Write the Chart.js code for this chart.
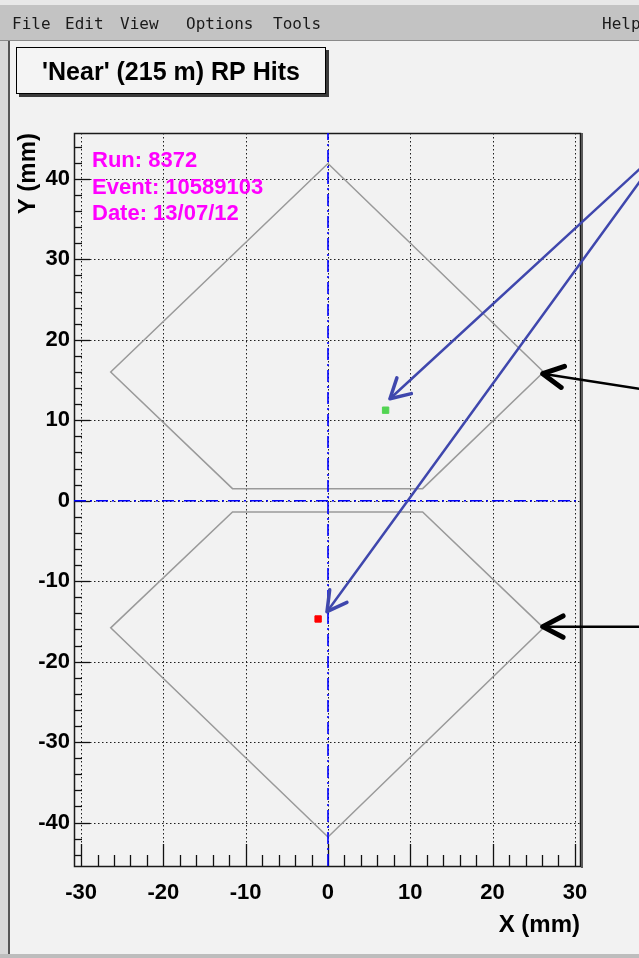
<!DOCTYPE html>
<html>
<head>
<meta charset="utf-8">
<script src="https://cdn.jsdelivr.net/npm/chart.js@4.4.0/dist/chart.umd.min.js"></script>
<style>
  html, body { margin: 0; padding: 0; background: #f2f2f2; overflow: hidden; }
  canvas { display: block; }
</style>
</head>
<body>
<canvas id="rp" width="639" height="958"></canvas>
<script>
// 'Near' (215 m) Roman Pot hit display

// axis ranges and labelled ticks (mm)
const xRange = [-30.86, 30.62];
const yRange = [-45.4, 45.7];
const xTickValues = [-30, -20, -10, 0, 10, 20, 30];
const yTickValues = [-40, -30, -20, -10, 0, 10, 20, 30, 40];

// acceptance outline of the upper pot (mm)
const upperPotX = [0, 26.2, 11.5, -11.6, -26.4, 0];
const upperPotY = [41.9, 16.0, 1.5, 1.5, 16.0, 41.9];
// acceptance outline of the lower pot (mm)
const lowerPotX = [0, 26.2, 11.5, -11.6, -26.4, 0];
const lowerPotY = [-41.8, -15.8, -1.4, -1.4, -15.8, -41.8];

// reconstructed hits (mm)
const hitUpperX = [7.0];
const hitUpperY = [11.25];
const hitLowerX = [-1.2];
const hitLowerY = [-14.7];

// event information
const infoLines = ['Run: 8372', 'Event: 10589103', 'Date: 13/07/12'];
const plotTitle = "'Near' (215 m) RP Hits";
const menuLabels = ['File', 'Edit', 'View', 'Options', 'Tools', 'Help'];

// annotation arrows, endpoints in mm: [tailX, tailY, tipX, tipY]
const blueArrows = [
  [41.25, 44.4, 7.53, 12.67],
  [41.25, 44.4, -0.12, -13.79]
];
const blackArrows = [
  [40.3, 13.5, 26.09, 15.78],
  [40.3, -15.65, 26.09, -15.65]
];

const zip = (xs, ys) => xs.map((x, i) => ({ x: x, y: ys[i] }));

const FONT = '"Liberation Sans", Arial, Helvetica, sans-serif';

function arrow(ctx, x1, y1, x2, y2, color, lw, headLw, headLen, halfAngle) {
  const ang = Math.atan2(y1 - y2, x1 - x2);
  ctx.save();
  ctx.strokeStyle = color;
  ctx.lineCap = 'round';
  ctx.lineJoin = 'round';
  ctx.lineWidth = lw;
  ctx.beginPath();
  ctx.moveTo(x1, y1);
  ctx.lineTo(x2, y2);
  ctx.stroke();
  ctx.lineWidth = headLw;
  ctx.beginPath();
  ctx.moveTo(x2 + headLen * Math.cos(ang + halfAngle), y2 + headLen * Math.sin(ang + halfAngle));
  ctx.lineTo(x2, y2);
  ctx.lineTo(x2 + headLen * Math.cos(ang - halfAngle), y2 + headLen * Math.sin(ang - halfAngle));
  ctx.stroke();
  ctx.restore();
}

const rootStyle = {
  id: 'rootStyle',
  beforeDraw(chart) {
    const ctx = chart.ctx;
    const W = chart.width, H = chart.height;
    ctx.save();
    // canvas background
    ctx.fillStyle = '#f2f2f2';
    ctx.fillRect(0, 0, W, H);
    // menu bar
    ctx.fillStyle = '#e8e8e8';
    ctx.fillRect(0, 0, W, 5);
    ctx.fillStyle = '#c3c3c3';
    ctx.fillRect(0, 5, W, 36);
    ctx.fillStyle = '#8a8a8a';
    ctx.fillRect(0, 40, W, 1);
    // sunken window border
    ctx.fillStyle = '#d8d8d8';
    ctx.fillRect(0, 41, 8, H - 41);
    ctx.fillStyle = '#555555';
    ctx.fillRect(8, 41, 2, H - 41);
    ctx.fillStyle = '#bdbdbd';
    ctx.fillRect(0, H - 4, W, 4);
    // menu labels
    ctx.fillStyle = '#1a1a1a';
    ctx.font = '16px "DejaVu Sans Mono", monospace';
    ctx.textBaseline = 'alphabetic';
    ctx.textAlign = 'left';
    const menuX = [12, 65, 120, 186, 273, 602];
    menuLabels.forEach((m, i) => ctx.fillText(m, menuX[i], 29));
    // title box with shadow
    ctx.fillStyle = '#3a3a3a';
    ctx.fillRect(19, 50, 310, 47);
    ctx.fillStyle = '#f4f4f4';
    ctx.fillRect(16, 47, 310, 47);
    ctx.strokeStyle = '#000';
    ctx.lineWidth = 1;
    ctx.strokeRect(16.5, 47.5, 309, 46);
    ctx.fillStyle = '#000';
    ctx.font = 'bold 25px ' + FONT;
    ctx.textAlign = 'center';
    ctx.fillText(plotTitle, 171, 80);
    ctx.restore();
  },
  beforeDatasetsDraw(chart) {
    const ctx = chart.ctx;
    const a = chart.chartArea;
    const xs = chart.scales.x, ys = chart.scales.y;
    ctx.save();
    // dotted grid at labelled ticks
    ctx.strokeStyle = '#1e1e1e';
    ctx.lineWidth = 1;
    ctx.setLineDash([1.5, 2.5]);
    xTickValues.forEach(v => {
      const px = Math.round(xs.getPixelForValue(v)) + 0.5;
      ctx.beginPath(); ctx.moveTo(px, a.top); ctx.lineTo(px, a.bottom); ctx.stroke();
    });
    yTickValues.forEach(v => {
      const py = Math.round(ys.getPixelForValue(v)) + 0.5;
      ctx.beginPath(); ctx.moveTo(a.left, py); ctx.lineTo(a.right, py); ctx.stroke();
    });
    ctx.setLineDash([]);
    // inward tick marks
    ctx.strokeStyle = '#111';
    ctx.lineWidth = 1.3;
    for (let v = -30; v <= 30; v += 2) {
      const px = Math.round(xs.getPixelForValue(v)) + 0.5;
      const len = v % 10 === 0 ? 22 : 11;
      ctx.beginPath(); ctx.moveTo(px, a.bottom); ctx.lineTo(px, a.bottom - len); ctx.stroke();
    }
    for (let v = -44; v <= 44; v += 2) {
      const py = Math.round(ys.getPixelForValue(v)) + 0.5;
      const len = v % 10 === 0 ? 16 : 8;
      ctx.beginPath(); ctx.moveTo(a.left, py); ctx.lineTo(a.left + len, py); ctx.stroke();
    }
    // frame
    ctx.strokeStyle = '#1a1a1a';
    ctx.lineWidth = 1.5;
    ctx.strokeRect(a.left + 0.5, a.top + 0.5, a.right - a.left, a.bottom - a.top);
    ctx.fillStyle = '#5a5a5a';
    ctx.fillRect(a.right + 1, a.top, 2, a.bottom - a.top + 2);
    ctx.restore();
  },
  afterDatasetsDraw(chart) {
    const ctx = chart.ctx;
    const a = chart.chartArea;
    const xs = chart.scales.x, ys = chart.scales.y;
    ctx.save();
    // event information
    ctx.fillStyle = '#ff00ff';
    ctx.font = 'bold 22px ' + FONT;
    ctx.textAlign = 'left';
    ctx.textBaseline = 'alphabetic';
    infoLines.forEach((t, i) => ctx.fillText(t, 92, 167 + i * 26.5));
    // axis titles
    ctx.fillStyle = '#000';
    ctx.font = 'bold 24px ' + FONT;
    ctx.textAlign = 'right';
    ctx.fillText('X (mm)', a.right, 932);
    ctx.save();
    ctx.translate(35, a.top);
    ctx.rotate(-Math.PI / 2);
    ctx.textAlign = 'right';
    ctx.fillText('Y (mm)', 0, 0);
    ctx.restore();
    // arrows
    blueArrows.forEach(r => arrow(ctx,
      xs.getPixelForValue(r[0]), ys.getPixelForValue(r[1]),
      xs.getPixelForValue(r[2]), ys.getPixelForValue(r[3]),
      '#3f47ad', 2.5, 3.5, 22, Math.PI / 6.2));
    blackArrows.forEach(r => arrow(ctx,
      xs.getPixelForValue(r[0]), ys.getPixelForValue(r[1]),
      xs.getPixelForValue(r[2]), ys.getPixelForValue(r[3]),
      '#000000', 2.5, 5, 23, Math.PI / 6.5));
    ctx.restore();
  }
};

const lineSet = (data, color, width, dash, order) => ({
  data: data, showLine: true, borderColor: color, borderWidth: width,
  borderDash: dash, pointRadius: 0, fill: false, tension: 0, order: order
});

const tickFont = { family: FONT, size: 22, weight: 'bold' };

new Chart(document.getElementById('rp'), {
  type: 'scatter',
  data: {
    datasets: [
      lineSet(zip(upperPotX, upperPotY), '#9a9a9a', 1.5, [], 3),
      lineSet(zip(lowerPotX, lowerPotY), '#9a9a9a', 1.5, [], 3),
      lineSet([{ x: 0, y: yRange[0] }, { x: 0, y: yRange[1] }], '#0000ff', 1.6, [12, 4, 2, 4], 2),
      lineSet([{ x: xRange[0], y: 0 }, { x: xRange[1], y: 0 }], '#0000ff', 1.6, [12, 4, 2, 4], 2),
      { data: zip(hitUpperX, hitUpperY), pointStyle: 'rect', pointRadius: 4.5,
        backgroundColor: '#52d452', borderColor: '#52d452', borderWidth: 1, order: 1 },
      { data: zip(hitLowerX, hitLowerY), pointStyle: 'rect', pointRadius: 4.5,
        backgroundColor: '#ff0000', borderColor: '#ff0000', borderWidth: 1, order: 1 }
    ]
  },
  options: {
    responsive: false,
    devicePixelRatio: 1,
    animation: false,
    events: [],
    layout: { padding: { left: 0, top: 133, right: 59, bottom: 0 } },
    plugins: { legend: { display: false }, tooltip: { enabled: false }, title: { display: false } },
    scales: {
      x: {
        type: 'linear', position: 'bottom', min: xRange[0], max: xRange[1],
        afterBuildTicks: s => { s.ticks = xTickValues.map(v => ({ value: v })); },
        afterFit: s => { s.height = 92; },
        grid: { display: false, drawTicks: false },
        border: { display: false },
        ticks: { font: tickFont, color: '#000', padding: 14, maxRotation: 0, autoSkip: false,
                 callback: v => String(v) }
      },
      y: {
        type: 'linear', position: 'left', min: yRange[0], max: yRange[1],
        afterBuildTicks: s => { s.ticks = yTickValues.map(v => ({ value: v })); },
        afterFit: s => { s.width = 74; },
        grid: { display: false, drawTicks: false },
        border: { display: false },
        ticks: { font: tickFont, color: '#000', padding: 4, autoSkip: false,
                 callback: v => String(v) }
      }
    }
  },
  plugins: [rootStyle]
});
</script>
</body>
</html>
